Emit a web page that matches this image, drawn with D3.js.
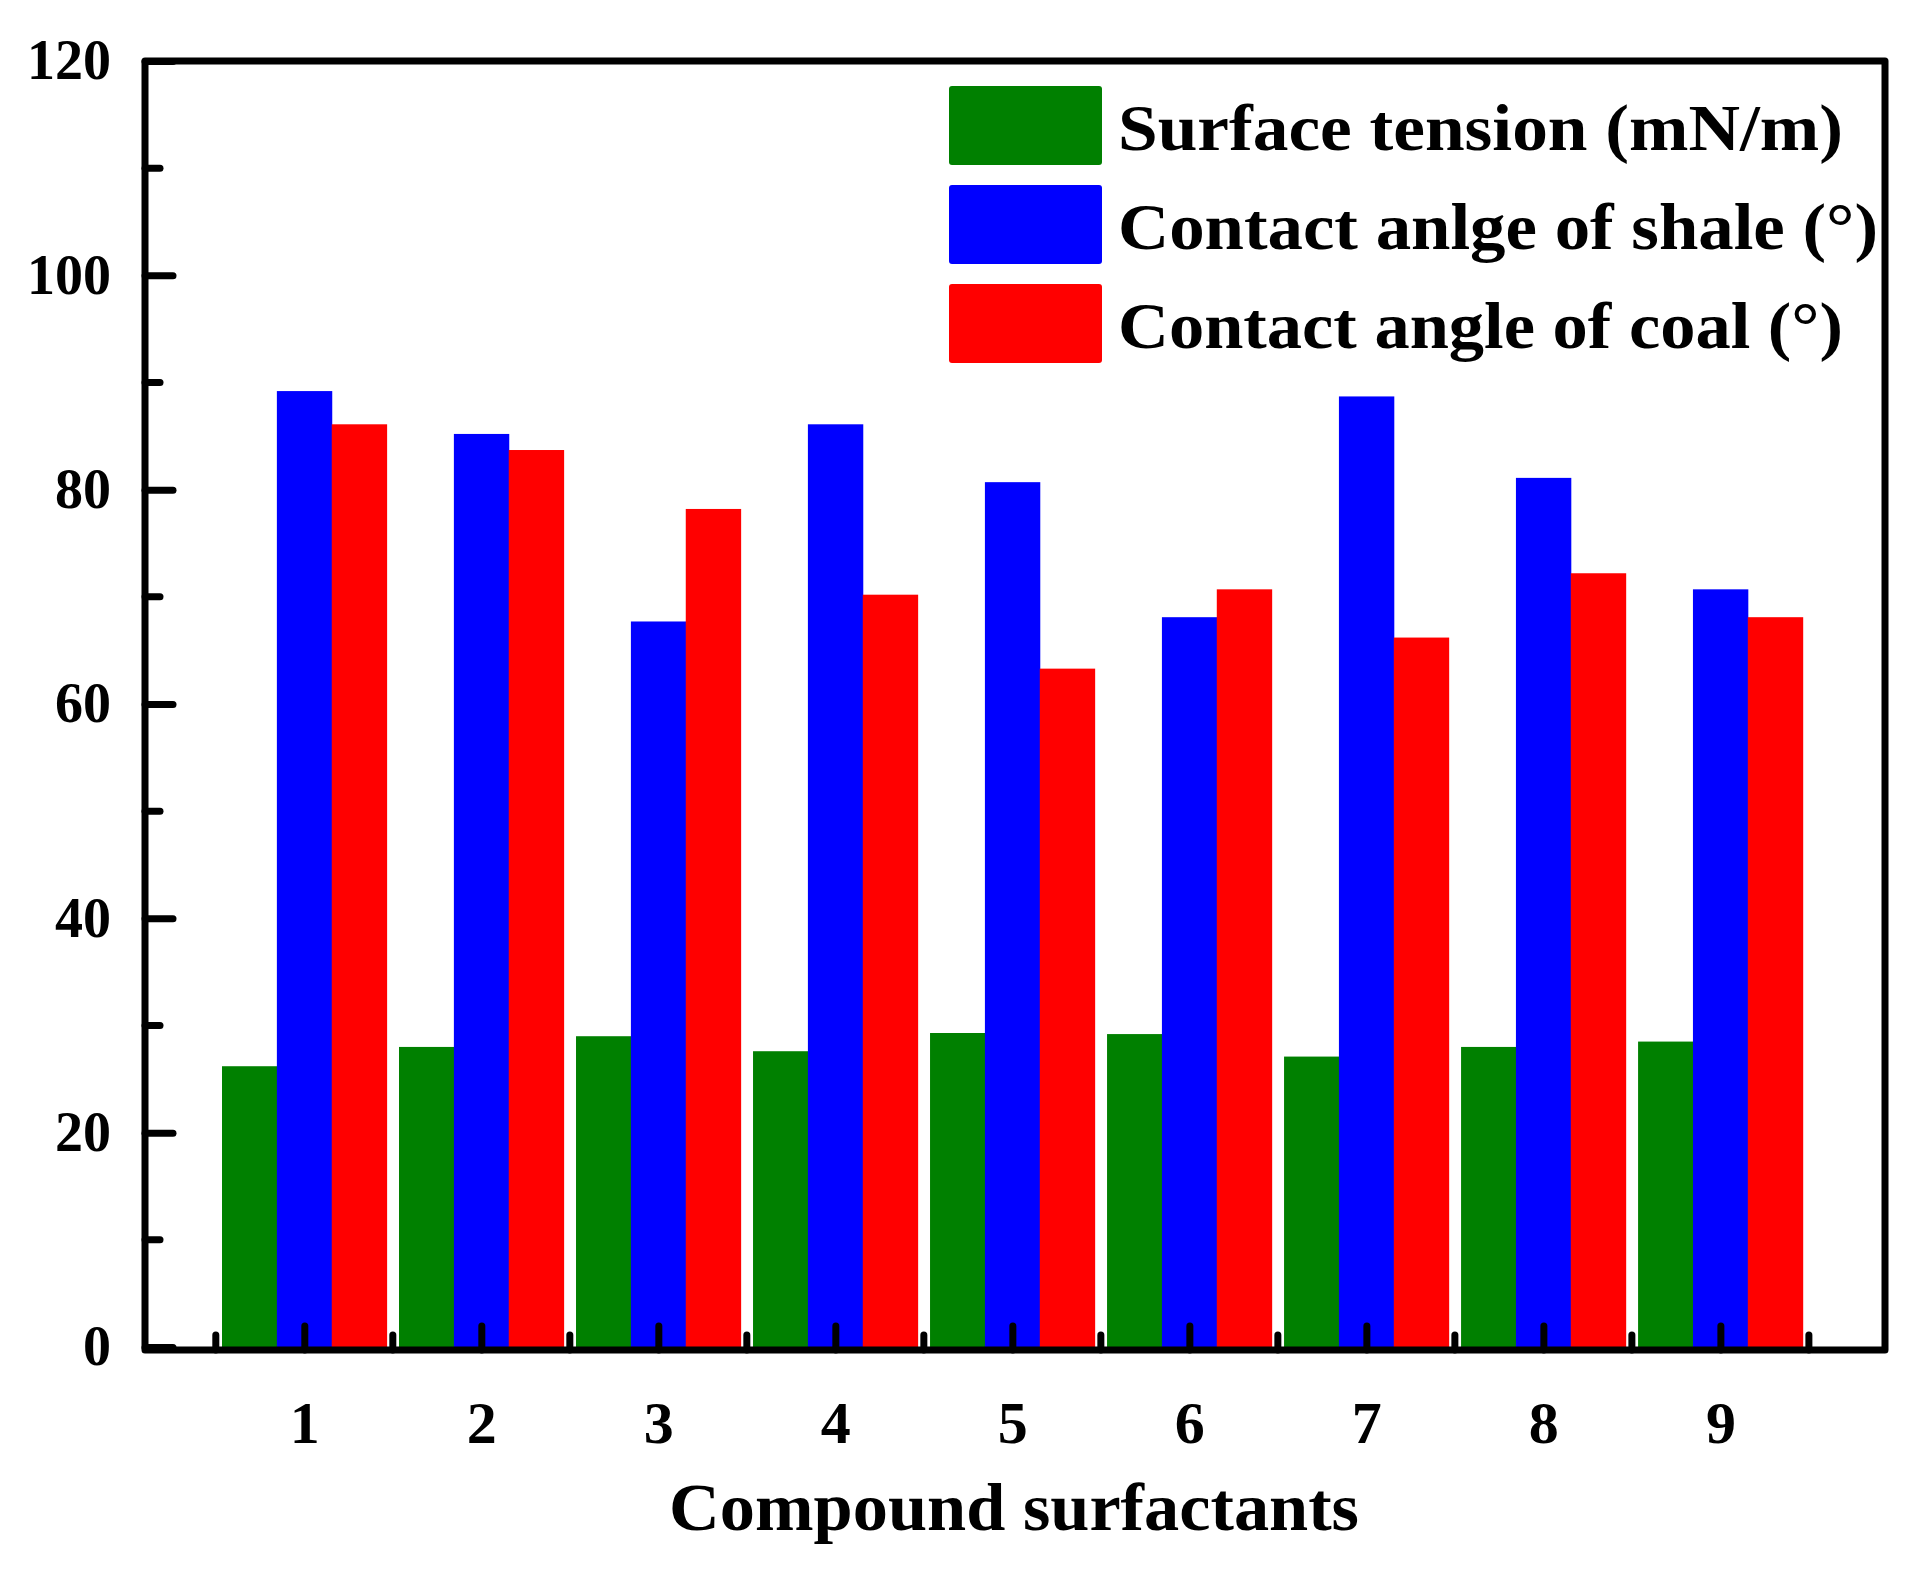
<!DOCTYPE html>
<html><head><meta charset="utf-8">
<script src="https://cdn.jsdelivr.net/npm/d3@7"></script>
<style>body{margin:0;background:#fff}</style>
</head><body>
<svg id="c" width="1910" height="1574"></svg>
<script>
const categories = [1,2,3,4,5,6,7,8,9];
const surfaceTension = [26.2,28.0,29.0,27.6,29.3,29.2,27.1,28.0,28.5];
const shaleAngle = [89.2,85.2,67.7,86.1,80.7,68.1,88.7,81.1,70.7];
const coalAngle = [86.1,83.7,78.2,70.2,63.3,70.7,66.2,72.2,68.1];
const seriesNames = ["Surface tension (mN/m)","Contact anlge of shale (°)","Contact angle of coal (°)"];
const seriesColors = ["#008000","#0000ff","#ff0000"];
const yTicks = [0,20,40,60,80,100,120];

const svg = d3.select("#c");
const L=145,R=1885,T=61,B=1347;
const x = d3.scaleLinear().domain([0.1,9.93]).range([L,R]);
const y = d3.scaleLinear().domain([0,120]).range([B,T]);
const bw = x(1)-x(0) ; const barW = bw*0.31;
const font = "'Liberation Serif', 'DejaVu Serif', serif";

const series=[surfaceTension,shaleAngle,coalAngle];
series.forEach((vals,si)=>{
  svg.append("g").selectAll("rect").data(vals).join("rect")
    .attr("x",(d,i)=>x(categories[i]) - barW*1.5 + si*barW)
    .attr("width",barW+0.5)
    .attr("y",d=>y(d)).attr("height",d=>y(0)-y(d))
    .attr("fill",seriesColors[si]);
});

// frame
svg.append("rect").attr("x",L).attr("y",T).attr("width",R-L).attr("height",B-T+3)
  .attr("fill","none").attr("stroke","#000").attr("stroke-width",7).attr("stroke-linejoin","round");

// y axis ticks
const ya = d3.axisLeft(y).tickValues(yTicks).tickSize(-28).tickPadding(40).tickFormat(d3.format("d"));
const gy = svg.append("g").attr("transform",`translate(${L},0)`).call(ya);
gy.select(".domain").remove();
gy.selectAll("line").attr("stroke","#000").attr("stroke-width",7).attr("stroke-linecap","round");
gy.selectAll("text").attr("font-family",font).attr("font-weight","bold").attr("font-size",56).attr("fill","#000").attr("dx","6");
const yminor = d3.range(10,120,20);
svg.append("g").selectAll("line").data(yminor).join("line")
  .attr("x1",L).attr("x2",L+15).attr("y1",d=>y(d)).attr("y2",d=>y(d))
  .attr("stroke","#000").attr("stroke-width",7).attr("stroke-linecap","round");

// x axis
const xa = d3.axisBottom(x).tickValues(categories).tickSize(-24).tickPadding(50).tickFormat(d3.format("d"));
const gx = svg.append("g").attr("transform",`translate(0,${B+3})`).call(xa);
gx.select(".domain").remove();
gx.selectAll("line").attr("stroke","#000").attr("stroke-width",7).attr("stroke-linecap","round");
gx.selectAll("text").attr("font-family",font).attr("font-weight","bold").attr("font-size",60).attr("fill","#000");
const xminor = d3.range(0.5,10,1);
svg.append("g").selectAll("line").data(xminor).join("line")
  .attr("x1",d=>x(d)).attr("x2",d=>x(d)).attr("y1",B+3).attr("y2",B-12)
  .attr("stroke","#000").attr("stroke-width",7).attr("stroke-linecap","round");

svg.append("text").attr("x",1014).attr("y",1530).attr("text-anchor","middle")
  .attr("font-family",font).attr("font-weight","bold").attr("font-size",68)
  .attr("textLength",690).attr("lengthAdjust","spacingAndGlyphs").text("Compound surfactants");

// legend
const ly=[86,185,284], lw=[725,760,725];
seriesNames.forEach((n,i)=>{
  svg.append("rect").attr("x",949).attr("y",ly[i]).attr("width",153).attr("height",79).attr("rx",3).attr("fill",seriesColors[i]);
  svg.append("text").attr("x",1118).attr("y",ly[i]+64).attr("font-family",font).attr("font-weight","bold")
    .attr("font-size",66).attr("textLength",lw[i]).attr("lengthAdjust","spacingAndGlyphs").text(n);
});
</script>
</body></html>
